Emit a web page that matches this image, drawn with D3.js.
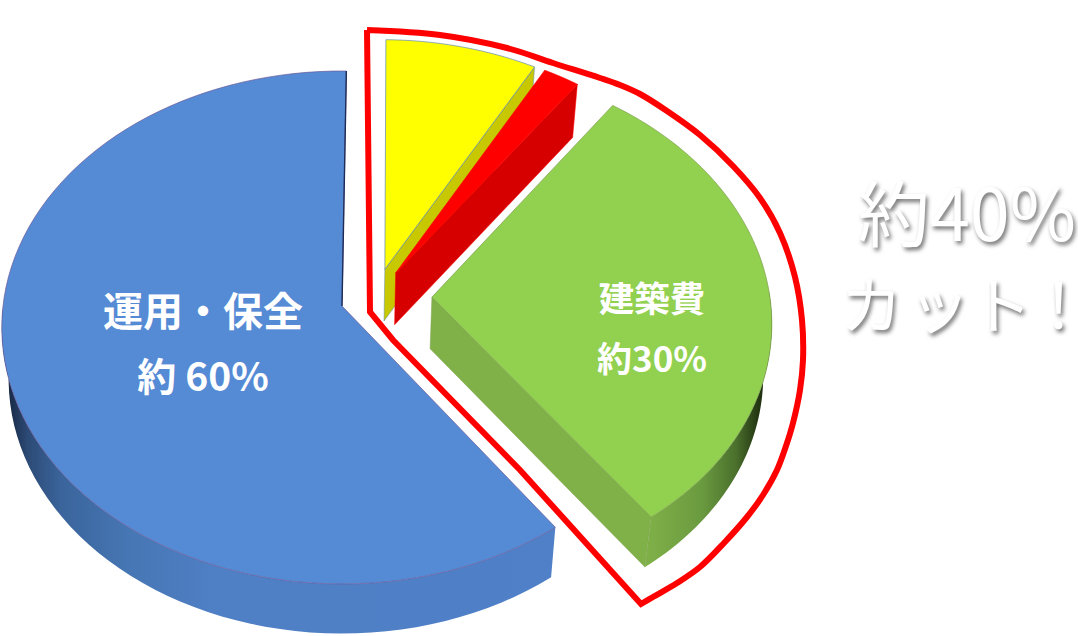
<!DOCTYPE html>
<html lang="ja">
<head>
<meta charset="utf-8">
<script src="https://d3js.org/d3.v7.min.js"></script>
<style>
html,body{margin:0;padding:0;background:#fff;}
svg{display:block;}
text{font-family:"Noto Sans CJK JP","Noto Sans",sans-serif;}
</style>
</head>
<body>
<svg id="c" width="1078" height="636"></svg>
<script>
// --- data (percent of life-cycle cost) ---
const categories = ["その他A", "その他B", "建築費", "運用・保全"];
const shares = [7.9, 1.9, 30, 60.2];

// --- text ---
const blueLabel = ["運用・保全", "約 60%"];
const greenLabel = ["建築費", "約30%"];
const calloutLines = ["約40%", "カット！"];

// --- styles & layout, kept apart from the values ---
const topFill = ["#ffff00", "#ff0000", "#92d050", "#558ad5"];
const cutFill = ["#c8c800", "#d60000", "#80b148", "#4f7fc5"];
const edgeColor = ["#5f86b5", "#ff0000", "#80a050", "#6a5a9a"];
// each slice was pulled out by hand: offset in unit-disc coordinates
const pullX = [0.128, 0.160, 0.266, 0];
const pullY = [-0.146, -0.131, -0.035, 0];

const W = 1078, H = 636;
const cx = 342, cy = 306, Rx = 339, Ry = 254.7, k = 0.0838;
const arcSteps = 90;
const rotation = 0.8 * Math.PI / 180;
const svg = d3.select("#c");

// perspective from the unit disc to the top face
const project = (wx, wy) => {
  const d = 1 - k * wy;
  return [cx + Rx * wx / d, cy + Ry * wy / d];
};
// the same point on the lower face of the disc
const sink = ([x, y]) => [cx + (x - cx) * 0.98, y * 0.9927 + 53.8];

const total = d3.sum(shares);
const pie = d3.pie().sort(null).value(d => d).startAngle(rotation).endAngle(rotation + total / 100 * 2 * Math.PI);
const arcs = pie(shares);
const line = d3.line();
const closed = pts => line(pts) + "Z";

// wall shading
const defs = svg.append("defs");
function gradient(id, x1, x2, stops) {
  const g = defs.append("linearGradient").attr("id", id).attr("gradientUnits", "userSpaceOnUse")
    .attr("x1", x1).attr("x2", x2).attr("y1", 0).attr("y2", 0);
  stops.forEach(([o, c]) => g.append("stop").attr("offset", o).attr("stop-color", c));
}
gradient("wallBlue", 5, 560, [[0, "#14233c"], [0.04, "#2c4a75"], [0.1, "#3a649b"], [0.22, "#4676b3"], [0.37, "#4f7fc4"], [1, "#4f80c8"]]);
gradient("wallGreen", 645, 772, [[0, "#80b148"], [0.45, "#6a9a3f"], [0.72, "#4a6f2c"], [0.88, "#263a14"], [1, "#16220b"]]);
const outerFill = ["#c8c800", "#d60000", "url(#wallGreen)", "url(#wallBlue)"];

const drawOrder = [3, 0, 1, 2];
drawOrder.forEach(i => {
  const a = arcs[i];
  const apexW = [pullX[i], pullY[i]];
  const apex = project(...apexW);
  const at = t => project(pullX[i] + Math.sin(t), pullY[i] - Math.cos(t));
  const rim = d3.range(arcSteps + 1).map(j => at(a.startAngle + (a.endAngle - a.startAngle) * j / arcSteps));
  const g = svg.append("g").attr("class", "slice").attr("data-name", categories[i]);

  // outer wall: only the part of the rim that faces the viewer
  const front = [];
  for (let j = 0; j <= arcSteps; j++) {
    const t = a.startAngle + (a.endAngle - a.startAngle) * j / arcSteps;
    if (Math.cos(t) < 0.02) front.push(at(t));
  }
  if (front.length > 1) {
    g.append("path").attr("d", closed(front.concat(front.map(sink).reverse())))
      .attr("fill", outerFill[i]);
  }
  // cut faces, when they face the viewer
  if (Math.sin(a.endAngle) > 0.02) {
    const e = at(a.endAngle);
    g.append("path").attr("d", closed([apex, e, sink(e), sink(apex)]))
      .attr("fill", cutFill[i]).attr("stroke", edgeColor[i]).attr("stroke-width", 0.5);
  }
  // top face
  g.append("path").attr("d", closed([apex].concat(rim)))
    .attr("fill", topFill[i]).attr("stroke", edgeColor[i]).attr("stroke-width", 0.7);
  // dark sliver of the blue slice's closing cut
  if (i === 3) {
    g.append("path").attr("d", line([apex, at(a.endAngle)]))
      .attr("fill", "none").attr("stroke", "#1e2c58").attr("stroke-width", 1.4);
  }
});

// hand-drawn red callout around the reduced part
const calloutTrace = [
  [367, 30], [440, 35], [507, 48], [553, 63], [600, 78], [620, 85], [640, 94], [667, 111], [700, 135],
  [733, 166], [760, 198], [780, 233], [795, 277], [802, 320], [803, 360], [800, 390], [793, 423],
  [786, 446], [777, 470], [763, 495], [747, 517], [724, 543], [700, 567], [677, 583], [653, 597], [641, 604]
];
const calloutEdge = [[641, 604], [520, 470], [393, 340], [370, 312], [367, 30]];
svg.append("path")
  .attr("d", d3.line().curve(d3.curveCatmullRom.alpha(0.5))(calloutTrace) + "L" + calloutEdge.slice(1).join("L"))
  .attr("fill", "none").attr("stroke", "#ff0000").attr("stroke-width", 6).attr("stroke-linejoin", "miter");

// slice labels
const labels = [
  {t: blueLabel[0], x: 203, y: 309, s: 40},
  {t: blueLabel[1], x: 203, y: 374, s: 39},
  {t: greenLabel[0], x: 652, y: 296, s: 35.5},
  {t: greenLabel[1], x: 652, y: 356, s: 35}
];
svg.selectAll("text.lab").data(labels).join("text").attr("class", "lab")
  .attr("x", d => d.x).attr("y", d => d.y).attr("text-anchor", "middle").attr("dominant-baseline", "central")
  .attr("font-size", d => d.s).attr("font-weight", 700).attr("fill", "#fff").text(d => d.t);

// white headline with soft shadow
svg.selectAll("text.big").data(calloutLines).join("text").attr("class", "big")
  .attr("x", (d, i) => i === 0 ? 858 : 842)
  .attr("y", (d, i) => i === 0 ? 209 : 302)
  .attr("textLength", (d, i) => i === 0 ? 218 : 232)
  .attr("lengthAdjust", (d, i) => i === 0 ? "spacingAndGlyphs" : "spacing")
  .attr("dominant-baseline", "central")
  .attr("font-size", (d, i) => i === 0 ? 72 : 62).attr("font-weight", 400).attr("fill", "#fff")
  .style("font-feature-settings", (d, i) => i === 0 ? "normal" : "'palt'")
  .style("filter", "drop-shadow(2px 3px 2px rgba(0,0,0,0.55))")
  .text(d => d);
</script>
</body>
</html>
